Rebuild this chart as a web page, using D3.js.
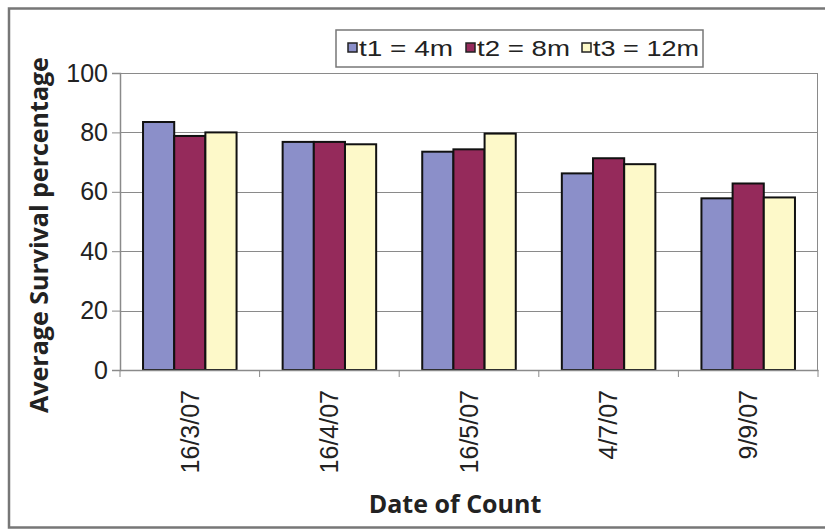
<!DOCTYPE html>
<html>
<head>
<meta charset="utf-8">
<script src="https://cdn.jsdelivr.net/npm/d3@7"></script>
<style>
  body { margin: 0; background: #fff; }
  svg { display: block; }
</style>
</head>
<body>
<div id="chart"></div>
<script>
const dates = ["16/3/07", "16/4/07", "16/5/07", "4/7/07", "9/9/07"]
const seriesNames = ["t1 = 4m", "t2 = 8m", "t3 = 12m"]
const t1 = [83.5, 76.8, 73.5, 66.2, 57.8]
const t2 = [78.8, 76.8, 74.3, 71.3, 62.8]
const t3 = [80.0, 76.0, 79.6, 69.3, 58.1]
const yTicks = [0, 20, 40, 60, 80, 100]

const colors = ["#8b8fc9", "#952a5b", "#fdf9c9"]
const series = [t1, t2, t3]

const width = 825, height = 529
const margin = { top: 73, right: 7, bottom: 159, left: 120 }
const plotW = width - margin.left - margin.right
const plotH = height - margin.top - margin.bottom

const svg = d3.select("#chart").append("svg")
  .attr("width", width)
  .attr("height", height)

// outer frame
svg.append("path")
  .attr("d", "M825,8.5 H9 V527.5 H825")
  .attr("fill", "none")
  .attr("stroke", "#777")
  .attr("stroke-width", 2.5)

const g = svg.append("g")
  .attr("transform", "translate(" + margin.left + "," + margin.top + ")")

const x = d3.scaleBand().domain(dates).range([0, plotW]).paddingInner(0.33).paddingOuter(0.165)
const x1 = d3.scaleBand().domain(d3.range(seriesNames.length)).range([0, x.bandwidth()])
const y = d3.scaleLinear().domain([0, 100]).range([plotH, 0])

// gridlines
g.append("g").selectAll("line")
  .data(yTicks.slice(1))
  .join("line")
  .attr("x1", 0).attr("x2", plotW)
  .attr("y1", d => Math.round(y(d)) + 0.5).attr("y2", d => Math.round(y(d)) + 0.5)
  .attr("stroke", "#8a8a8a")
  .attr("stroke-width", 1.2)

// right border of plot area
g.append("line")
  .attr("x1", plotW - 0.5).attr("x2", plotW - 0.5)
  .attr("y1", y(100)).attr("y2", plotH)
  .attr("stroke", "#8a8a8a")

// bars
const groups = g.append("g").selectAll("g")
  .data(dates)
  .join("g")
  .attr("transform", d => "translate(" + x(d) + ",0)")

groups.selectAll("rect")
  .data((d, i) => series.map((s, k) => ({ k: k, v: s[i] })))
  .join("rect")
  .attr("x", d => x1(d.k))
  .attr("y", d => y(d.v))
  .attr("width", x1.bandwidth())
  .attr("height", d => plotH - y(d.v))
  .attr("fill", d => colors[d.k])
  .attr("stroke", "#111")
  .attr("stroke-width", 2)

// y axis
const yAxis = g.append("g")
  .call(d3.axisLeft(y).tickValues(yTicks).tickSize(8).tickPadding(4))
yAxis.select(".domain").attr("stroke", "#8a8a8a").attr("stroke-width", 1.5)
yAxis.selectAll(".tick line").attr("stroke", "#8a8a8a")
yAxis.selectAll("text")
  .attr("font-family", "Liberation Sans, Arial, sans-serif")
  .attr("font-size", 25)
  .attr("fill", "#222")

// x axis
const xAxis = g.append("g")
  .attr("transform", "translate(0," + plotH + ")")
  .call(d3.axisBottom(x).tickSize(0))
xAxis.select(".domain").attr("stroke", "#8a8a8a").attr("stroke-width", 1.5)
xAxis.selectAll("text")
  .attr("font-family", "Liberation Sans, Arial, sans-serif")
  .attr("font-size", 25)
  .attr("fill", "#222")
  .attr("transform", "rotate(-90)")
  .attr("text-anchor", "end")
  .attr("x", -20)
  .attr("y", 0)
  .attr("dy", "0.35em")

// category separator ticks
g.append("g").selectAll("line")
  .data(d3.range(dates.length + 1))
  .join("line")
  .attr("x1", i => i * plotW / dates.length).attr("x2", i => i * plotW / dates.length)
  .attr("y1", plotH).attr("y2", plotH + 7)
  .attr("stroke", "#8a8a8a")

// axis titles
svg.append("text")
  .attr("transform", "translate(48,235) rotate(-90)")
  .attr("text-anchor", "middle")
  .attr("font-family", "Open Sans, sans-serif")
  .attr("font-weight", "bold")
  .attr("font-size", 25)
  .attr("fill", "#222")
  .text("Average Survival percentage")

svg.append("text")
  .attr("x", 455)
  .attr("y", 513)
  .attr("text-anchor", "middle")
  .attr("font-family", "Open Sans, sans-serif")
  .attr("font-weight", "bold")
  .attr("font-size", 25)
  .attr("fill", "#222")
  .text("Date of Count")

// legend
const legend = svg.append("g").attr("transform", "translate(336,30)")
legend.append("rect")
  .attr("width", 367).attr("height", 37)
  .attr("fill", "#fff")
  .attr("stroke", "#777")
  .attr("stroke-width", 1.5)

const legendX = [12, 130, 246]
const legendW = [94, 93, 106]
const items = legend.selectAll("g.item")
  .data(seriesNames)
  .join("g")
  .attr("class", "item")
  .attr("transform", (d, i) => "translate(" + legendX[i] + ",0)")
items.append("rect")
  .attr("x", 0).attr("y", 13)
  .attr("width", 9).attr("height", 9)
  .attr("fill", (d, i) => colors[i])
  .attr("stroke", "#222")
  .attr("stroke-width", 1.5)
items.append("text")
  .attr("x", 11).attr("y", 26)
  .attr("font-family", "Liberation Sans, Arial, sans-serif")
  .attr("font-size", 22)
  .attr("fill", "#222")
  .attr("textLength", (d, i) => legendW[i])
  .attr("lengthAdjust", "spacingAndGlyphs")
  .text(d => d)
</script>
</body>
</html>
